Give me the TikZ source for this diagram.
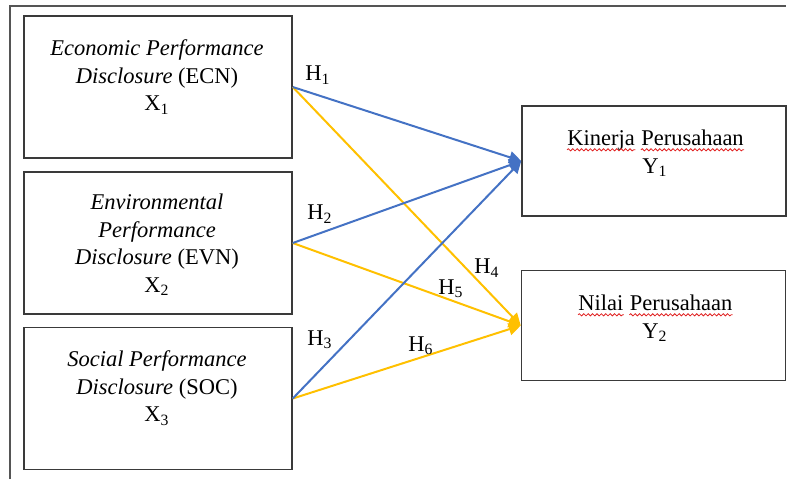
\documentclass[tikz,border=0pt]{standalone}
\usepackage{fontspec}
\setmainfont{Liberation Serif}
\usepackage{tikz}
\usetikzlibrary{arrows.meta,decorations.pathmorphing}
\definecolor{frame}{HTML}{555555}
\definecolor{edge}{HTML}{3A3A3A}
\definecolor{bluepath}{HTML}{4472C4}
\definecolor{goldpath}{HTML}{FFC000}
\definecolor{spell}{HTML}{E02020}
\tikzset{
  xbox/.style={draw=edge, line width=0.75pt, minimum width=134pt, minimum height=71pt, inner sep=0pt},
  ybox/.style={draw=edge, line width=0.75pt, minimum width=132pt, minimum height=55pt, inner sep=0pt},
  txt/.style={font=\fontsize{11.25}{13.75}\selectfont, align=center, inner sep=0pt},
  word/.style={font=\fontsize{11.25}{13.75}\selectfont, inner sep=0pt, anchor=base west},
  hyp/.style={font=\fontsize{11.25}{13.75}\selectfont, inner sep=0pt},
  wave/.style={draw=spell, line width=0.4pt, decorate, decoration={snake, amplitude=0.55pt, segment length=2.2pt}},
  bluepath/.style={draw=bluepath, line width=1pt, -{Triangle[length=6pt,width=6pt]}},
  goldpath/.style={draw=goldpath, line width=1pt, -{Triangle[length=6pt,width=6pt]}},
}
\begin{document}
\begin{tikzpicture}[x=0.5pt,y=-0.5pt]
  \useasboundingbox (0,0) rectangle (787,479);
  \draw[frame, line width=1pt] (10,479) -- (10,6) -- (786,6);
  % boxes
  \node[xbox] (ecn) at (158,87) {};
  \node[xbox] (evn) at (158,243) {};
  \node[xbox] (soc) at (158,398.5) {};
  \node[ybox] (kin) at (654,161) {};
  \node[ybox] (nil) at (653.5,325.5) {};
  % texts
  \node[txt] (ecntxt) at (157,77) {\textit{Economic Performance}\\\textit{Disclosure} (ECN)\\X\textsubscript{1}};
  \node[txt] (evntxt) at (157,245) {\textit{Environmental}\\\textit{Performance}\\\textit{Disclosure} (EVN)\\X\textsubscript{2}};
  \node[txt] (soctxt) at (157,388) {\textit{Social Performance}\\\textit{Disclosure} (SOC)\\X\textsubscript{3}};
  \node[word] (kinA) at (567,145) {Kinerja};
  \node[word] (kinB) at ([xshift=2.8pt]kinA.base east) {Perusahaan};
  \node[txt, anchor=base] (kinY) at (655,173) {Y\textsubscript{1}};
  \node[word] (nilA) at (578,310) {Nilai};
  \node[word] (nilB) at ([xshift=2.8pt]nilA.base east) {Perusahaan};
  \node[txt, anchor=base] (nilY) at (655,338) {Y\textsubscript{2}};
  \foreach \w in {kinA,kinB,nilA,nilB}
    \draw[wave] ([yshift=-2.4pt]\w.base west) -- ([yshift=-2.4pt]\w.base east);
  % paths
  \draw[goldpath] (ecn.east) -- (nil.west);
  \draw[goldpath] (evn.east) -- (nil.west);
  \draw[goldpath] (soc.east) -- (nil.west);
  \draw[bluepath] (ecn.east) -- (kin.west);
  \draw[bluepath] (evn.east) -- (kin.west);
  \draw[bluepath] (soc.east) -- (kin.west);
  % hypotheses
  \node[hyp] (h1) at (318,75) {H\textsubscript{1}};
  \node[hyp] (h2) at (320,214) {H\textsubscript{2}};
  \node[hyp] (h3) at (320,340) {H\textsubscript{3}};
  \node[hyp] (h4) at (487,268) {H\textsubscript{4}};
  \node[hyp] (h5) at (451,289) {H\textsubscript{5}};
  \node[hyp] (h6) at (421,346) {H\textsubscript{6}};
\end{tikzpicture}
\end{document}
